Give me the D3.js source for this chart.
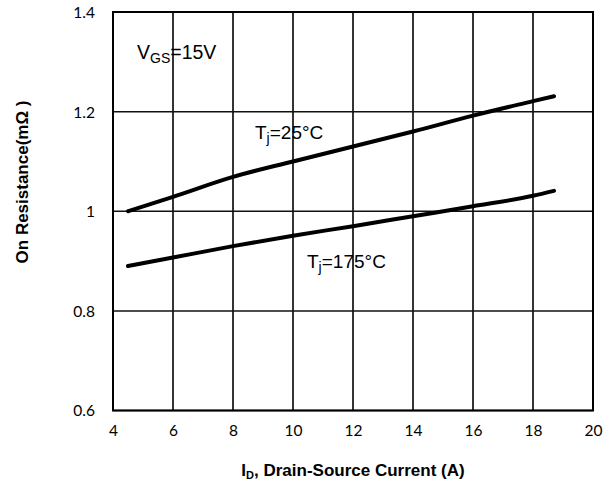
<!DOCTYPE html>
<html><head><meta charset="utf-8">
<script src="https://cdn.jsdelivr.net/npm/d3@7"></script>
<style>body{margin:0;background:#fff}</style>
</head><body>
<svg id="c" width="613" height="482"></svg>
<script>
const xTicks = [4, 6, 8, 10, 12, 14, 16, 18, 20];
const yTicks = [0.6, 0.8, 1, 1.2, 1.4];
const yTickLabels = ["0.6", "0.8", "1", "1.2", "1.4"];
const current25 = [4.5, 6, 8, 10, 12, 14, 16, 18, 18.7];
const rds25 = [1.0, 1.029, 1.069, 1.100, 1.130, 1.160, 1.192, 1.221, 1.231];
const current175 = [4.5, 6, 8, 10, 12, 14, 16, 18, 18.7];
const rds175 = [0.890, 0.907, 0.930, 0.951, 0.970, 0.990, 1.010, 1.031, 1.041];

const svg = d3.select("#c");
const L = 113, R = 593, T = 12, B = 410.5;
const x = d3.scaleLinear().domain([4, 20]).range([L, R]);
const y = d3.scaleLinear().domain([0.6, 1.4]).range([B, T]);

// grid
svg.append("g").selectAll("line").data(xTicks).join("line")
  .attr("x1", d => x(d)).attr("x2", d => x(d)).attr("y1", T).attr("y2", B)
  .attr("stroke", "#000").attr("stroke-width", 1.6);
svg.append("g").selectAll("line").data(yTicks).join("line")
  .attr("x1", L).attr("x2", R).attr("y1", d => y(d)).attr("y2", d => y(d))
  .attr("stroke", "#111").attr("stroke-width", 1.5);
svg.append("rect").attr("x", L).attr("y", T).attr("width", R - L).attr("height", B - T)
  .attr("fill", "none").attr("stroke", "#000").attr("stroke-width", 2);

// axes labels
const xAxis = d3.axisBottom(x).tickValues(xTicks).tickSize(0).tickPadding(0);
const gx = svg.append("g").attr("transform", `translate(0,${B})`).call(xAxis);
gx.select(".domain").remove();
gx.selectAll("text").attr("dy", null).attr("y", 25)
  .attr("font-family", "Lato, 'Open Sans', sans-serif").attr("font-size", 15.5).attr("fill", "#000");

const yAxis = d3.axisLeft(y).tickValues(yTicks).tickFormat((d, i) => yTickLabels[i]).tickSize(0).tickPadding(0);
const gy = svg.append("g").attr("transform", `translate(${L},0)`).call(yAxis);
gy.select(".domain").remove();
gy.selectAll("text").attr("x", -18).attr("dy", "0.35em")
  .attr("font-family", "Lato, 'Open Sans', sans-serif").attr("font-size", 15.5).attr("fill", "#000");

// curves
const line = d3.line().x(d => x(d[0])).y(d => y(d[1])).curve(d3.curveMonotoneX);
svg.append("path").datum(d3.zip(current25, rds25)).attr("d", line)
  .attr("fill", "none").attr("stroke", "#000").attr("stroke-width", 4).attr("stroke-linecap", "round");
svg.append("path").datum(d3.zip(current175, rds175)).attr("d", line)
  .attr("fill", "none").attr("stroke", "#000").attr("stroke-width", 4).attr("stroke-linecap", "round");

// annotations
const ff = "'Liberation Sans', Arial, sans-serif";
function sub(xp, yp, main, s, rest, fs, sfs) {
  const t = svg.append("text").attr("x", xp).attr("y", yp).attr("font-family", ff).attr("font-size", fs).attr("fill", "#000");
  t.append("tspan").text(main);
  t.append("tspan").attr("font-size", sfs).attr("dy", 4).text(s);
  t.append("tspan").attr("dy", -4).text(rest);
}
sub(137, 59, "V", "GS", "=15V", 19.5, 14);
sub(255, 139, "T", "j", "=25\u00B0C", 19, 14);
sub(307, 268, "T", "j", "=175\u00B0C", 19, 14);

// titles
const xt = svg.append("text").attr("x", 353).attr("y", 476).attr("text-anchor", "middle")
  .attr("font-family", ff).attr("font-size", 17).attr("font-weight", "bold").attr("fill", "#000");
xt.append("tspan").text("I");
xt.append("tspan").attr("font-size", 11).attr("dy", 3).text("D");
xt.append("tspan").attr("dy", -3).text(", Drain-Source Current (A)");

svg.append("text").attr("transform", "translate(28,182) rotate(-90)").attr("text-anchor", "middle")
  .attr("font-family", ff).attr("font-size", 17).attr("font-weight", "bold").attr("fill", "#000")
  .text("On Resistance(m\u03A9 )");
</script>
</body></html>
